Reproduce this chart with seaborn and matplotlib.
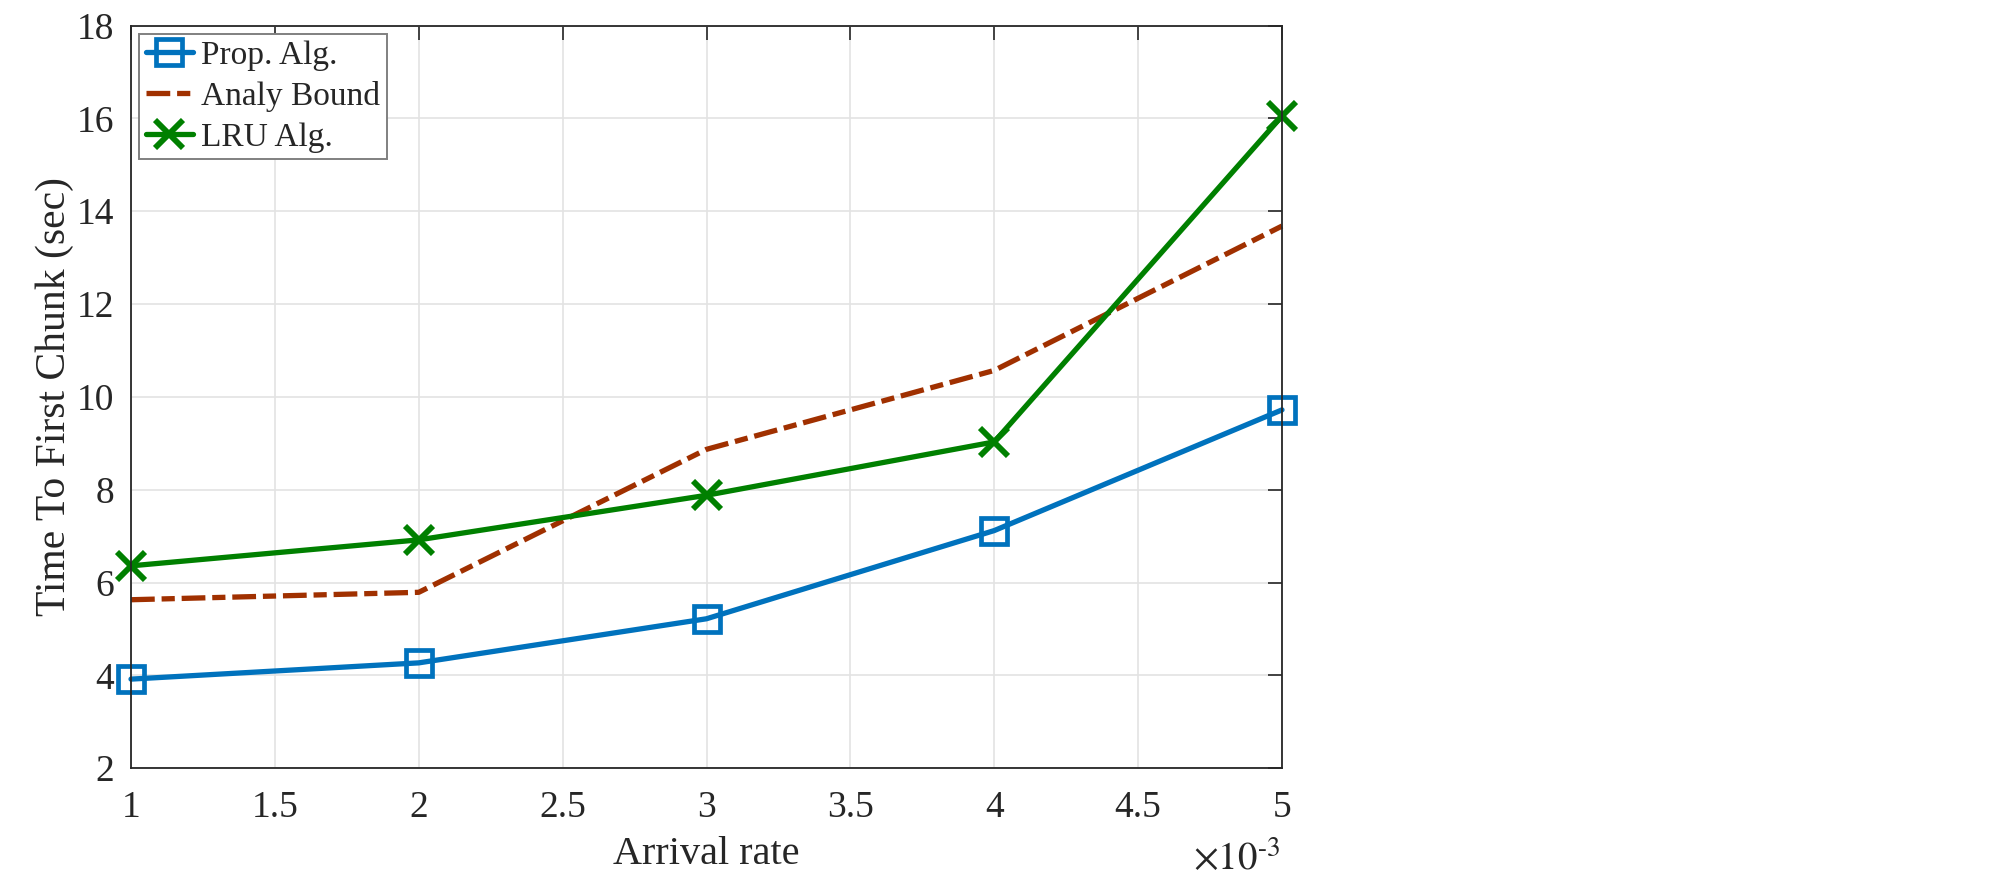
import numpy as np
import seaborn as sns
import matplotlib.pyplot as plt
from matplotlib.ticker import FuncFormatter

# values
arrival_rate = [0.001, 0.002, 0.003, 0.004, 0.005]
prop_alg = [3.92, 4.27, 5.22, 7.12, 9.72]
analy_bound = [5.63, 5.79, 8.87, 10.57, 13.68]
lru_alg = [6.36, 6.92, 7.88, 9.03, 16.05]

series = ["Prop. Alg.", "Analy Bound", "LRU Alg."]
colors = ["#0072BD", "#A03000", "#008000"]

sns.set_theme(style="whitegrid")
plt.rcParams["font.family"] = ["Liberation Serif", "DejaVu Serif"]
plt.rcParams["mathtext.fontset"] = "stix"

fig = plt.figure(figsize=(20, 8.8), dpi=100)
ax = fig.add_axes([0.0655, 0.127, 0.5755, 0.844])

lw = 3.8
sns.lineplot(x=arrival_rate, y=prop_alg, ax=ax, color=colors[0], lw=lw,
             marker="s", markersize=18.5, markerfacecolor="none",
             markeredgecolor=colors[0], markeredgewidth=3.4, label=series[0])
sns.lineplot(x=arrival_rate, y=analy_bound, ax=ax, color=colors[1], lw=lw,
             label=series[1])
ax.lines[-1].set_dashes([4.5, 1.3, 2.5, 1.3])
sns.lineplot(x=arrival_rate, y=lru_alg, ax=ax, color=colors[2], lw=lw,
             marker="x", markersize=20, markeredgewidth=4.2,
             markeredgecolor=colors[2], label=series[2])

for ln in ax.lines:
    ln.set_clip_on(False)

ax.set_xlim(0.001, 0.005)
ax.set_ylim(2, 18)
ax.set_xticks(np.arange(0.001, 0.00501, 0.0005))
ax.set_yticks(np.arange(2, 18.1, 2))
ax.xaxis.set_major_formatter(FuncFormatter(lambda v, p: f"{v * 1e3:g}"))

ax.set_facecolor("white")
ax.grid(True, color="#e3e3e3", linewidth=1.2)
for s in ax.spines.values():
    s.set_color("#262626")
    s.set_linewidth(1.3)
    s.set_visible(True)
ax.tick_params(direction="in", length=10, width=1.2, colors="#262626",
               top=True, right=True, labelsize=27, pad=12)
ax.tick_params(axis="x", pad=16)

ax.set_xlabel("Arrival rate", fontsize=29, color="#262626", labelpad=8)
ax.set_ylabel("Time To First Chunk (sec)", fontsize=30, color="#262626", labelpad=2)
fig.text(0.64, 0.0114, r"$\times 10^{\text{-}3}$", fontsize=28, color="#262626",
         ha="right", va="baseline")

leg = ax.legend(loc="upper left", fontsize=24, frameon=True, fancybox=False,
                edgecolor="#808080", handlelength=1.4, handletextpad=0.25,
                borderpad=0.2, labelspacing=0.3, borderaxespad=0.25,
                framealpha=1)
leg.get_frame().set_linewidth(1.4)

fig.savefig("out.png", dpi=100)
plt.close(fig)
